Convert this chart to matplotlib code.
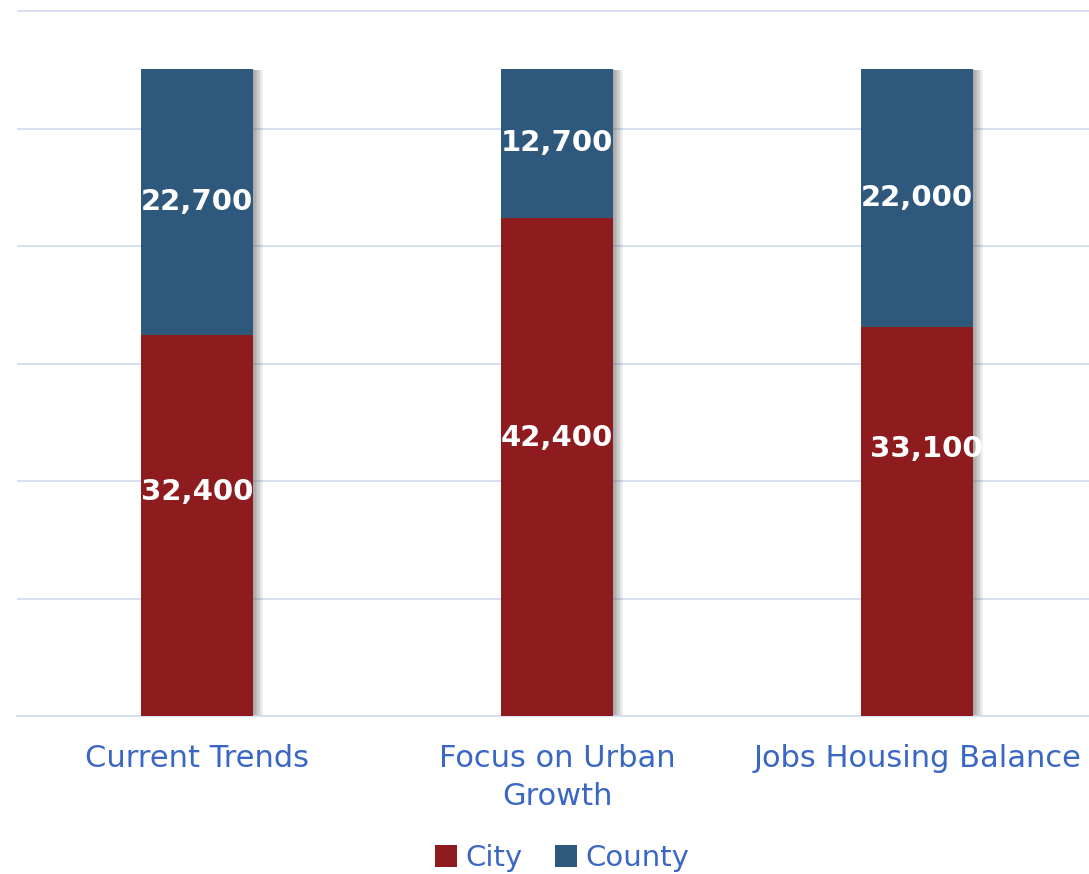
import matplotlib
matplotlib.use("Agg")
import matplotlib.pyplot as plt
import matplotlib.patheffects as pe
from matplotlib.patches import Patch

categories = ["Current Trends", "Focus on Urban\nGrowth", "Jobs Housing Balance"]
city = [32400, 42400, 33100]
county = [22700, 12700, 22000]

RED = "#8E1B1E"
BLUE = "#2E587C"
TXT = "#3A66C4"
GRID = "#D3DCEF"

plt.rcParams['font.family'] = ['DejaVu Sans']
fig = plt.figure(figsize=(10.89, 8.74), dpi=100)
ax = fig.add_axes([17/1089, 158/874, 1080/1089, 708.5/874])

x = list(range(len(categories)))
w = 0.31
totals = [a + b for a, b in zip(city, county)]

# soft shadow behind whole stack
shadow = [pe.SimplePatchShadow(offset=(k, -1), shadow_rgbFace="#606060", alpha=0.1) for k in range(1, 8)]
ax.bar(x, totals, width=w, color=BLUE, zorder=2, path_effects=shadow + [pe.Normal()])
ax.bar(x, city, width=w, color=RED, zorder=3)
ax.bar(x, county, width=w, bottom=city, color=BLUE, zorder=3)

# label placement tweaks (city labels sit above segment middle in the original)
city_dy = [2850, 2450, 6150]
city_dx = [0, 0, 0.025]
for i in x:
    ax.text(i + city_dx[i], city[i] / 2 + city_dy[i], f"{city[i]:,}", ha="center", va="center",
            color="white", fontsize=21, fontweight="bold", zorder=5)
    ax.text(i, city[i] + county[i] / 2, f"{county[i]:,}", ha="center", va="center",
            color="white", fontsize=21, fontweight="bold", zorder=5)

ax.set_xlim(-0.5, 2.5)
ax.set_ylim(0, 60300)
ax.set_yticks(range(0, 60001, 10000))
ax.yaxis.grid(True, color=GRID, linewidth=1.3, zorder=0)
ax.set_yticklabels([])
ax.tick_params(axis="y", length=0)
ax.tick_params(axis="x", length=0, pad=20)
ax.set_xticks(x)
ax.set_xticklabels(categories, color=TXT, fontsize=22, linespacing=1.38)
for s in ["top", "right", "left"]:
    ax.spines[s].set_visible(False)
ax.spines["bottom"].set_color(GRID)
ax.spines["bottom"].set_linewidth(1.3)

handles = [Patch(facecolor=RED, label="City"), Patch(facecolor=BLUE, label="County")]
fig.legend(handles=handles, loc="center", bbox_to_anchor=(562/1089, 1 - 858/874), ncol=2,
           frameon=False, fontsize=21, labelcolor=TXT, handlelength=0.75, handleheight=0.75,
           handletextpad=0.3, columnspacing=1.1)

fig.savefig("out.png", dpi=100)
